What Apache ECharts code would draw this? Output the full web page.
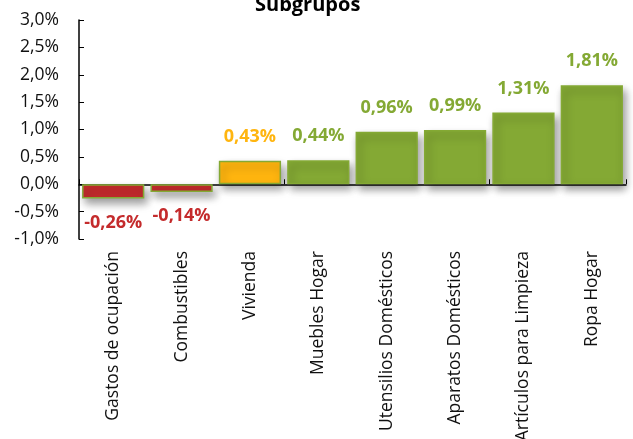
<!DOCTYPE html>
<html>
<head>
<meta charset="utf-8">
<script src="https://cdn.jsdelivr.net/npm/echarts@6/dist/echarts.min.js"></script>
<style>
	html, body { margin: 0; padding: 0; background: #fff; }
	#chart { width: 633px; height: 439px; }
</style>
</head>
<body>
<div id="chart"></div>
<script>
// datos
const categorias = ['Gastos de ocupación', 'Combustibles', 'Vivienda', 'Muebles Hogar',
	'Utensilios Domésticos', 'Aparatos Domésticos', 'Artículos para Limpieza', 'Ropa Hogar'];
const variaciones = [-0.26, -0.14, 0.43, 0.44, 0.96, 0.99, 1.31, 1.81];
const coloresBarra = ['#C42B2C', '#C42B2C', '#FFB50F', '#84A934', '#84A934', '#84A934', '#84A934', '#84A934'];
const coloresTexto = ['#C42B2C', '#C42B2C', '#FFB50F', '#84A934', '#84A934', '#84A934', '#84A934', '#84A934'];

const fuente = '"Open Sans", "Noto Sans", sans-serif';
const coma = (v, d) => v.toFixed(d).replace('.', ',');

const chart = echarts.init(document.getElementById('chart'));

const datos = variaciones.map((v, i) => ({
	value: v,
	itemStyle: {
		color: coloresBarra[i],
		borderColor: '#84A934',
		borderWidth: 1.5,
	},
	label: {
		position: v < 0 ? 'bottom' : 'top',
		color: coloresTexto[i],
	},
}));

chart.setOption({
	animation: false,
	title: {
		text: 'Subgrupos',
		left: 250,
		top: -10,
		textStyle: { fontFamily: fuente, fontWeight: 'bold', fontSize: 20, color: '#000' },
	},
	// las etiquetas del eje x se salen por abajo, como en el original
	grid: { left: 79, right: 7, top: 20, bottom: 200, outerBoundsMode: 'none' },
	xAxis: [
		{
			type: 'category',
			data: categorias,
			axisLine: { onZero: true, lineStyle: { color: '#000', width: 1.5 } },
			axisTick: { show: true, inside: true, length: 5, lineStyle: { color: '#000' } },
			axisLabel: { show: false },
		},
		{
			type: 'category',
			data: categorias,
			position: 'bottom',
			axisLine: { show: false },
			axisTick: { show: false },
			axisLabel: {
				rotate: 90,
				interval: 0,
				margin: 12,
				fontFamily: fuente,
				fontSize: 17.5,
				color: '#111',
			},
		},
	],
	yAxis: {
		type: 'value',
		min: -1,
		max: 3,
		interval: 0.5,
		splitLine: { show: false },
		axisLine: { show: true, lineStyle: { color: '#000', width: 1.5 } },
		axisTick: { show: true, inside: true, length: 5, lineStyle: { color: '#000' } },
		axisLabel: {
			margin: 20,
			fontFamily: fuente,
			fontSize: 17.5,
			color: '#111',
			formatter: (v) => coma(v, 1) + '%',
		},
	},
	series: [
		{
			type: 'bar',
			xAxisIndex: 0,
			data: datos,
			barCategoryGap: '9%',
			itemStyle: {
				shadowColor: 'rgba(0,0,0,0.4)',
				shadowBlur: 8,
				shadowOffsetX: 3,
				shadowOffsetY: 5,
			},
			label: {
				show: true,
				distance: 15,
				fontFamily: fuente,
				fontWeight: 'bold',
				fontSize: 18,
				formatter: (p) => coma(p.value, 2) + '%',
			},
		},
	],
});
</script>
</body>
</html>
